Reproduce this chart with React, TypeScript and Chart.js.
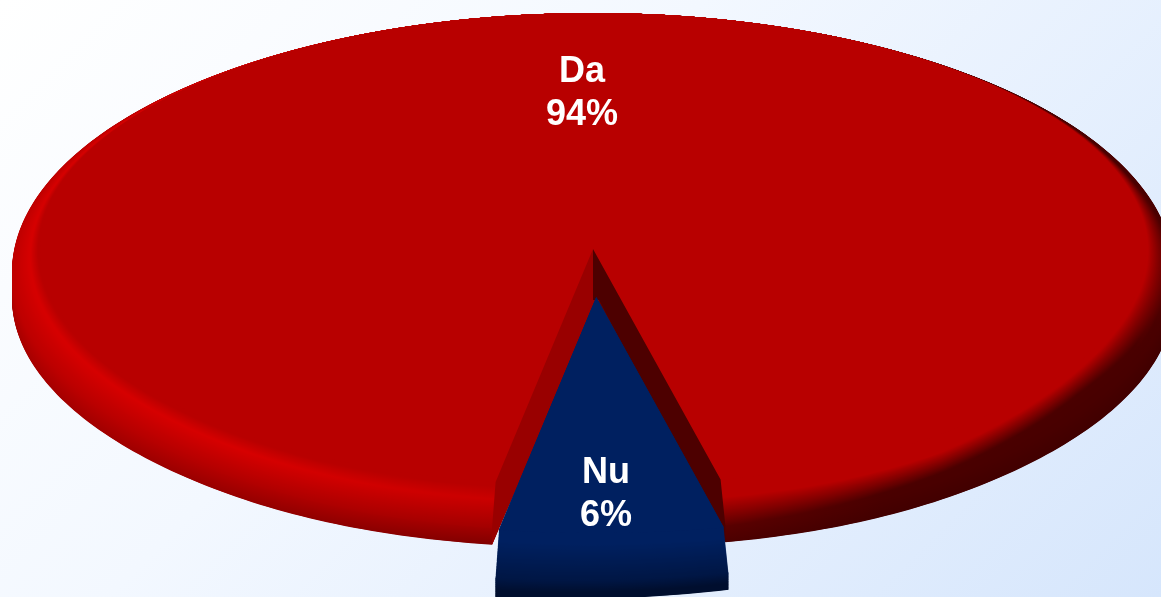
import React, { useEffect, useRef } from "react";
import { Chart, registerables } from "chart.js";

Chart.register(...registerables);

const categories = ["Da", "Nu"];
const seriesValues = [94, 6];
const sliceColors = ["#b80000", "#002060"];
const sliceOffsets = [0, 48];

// Projection of the pie's disc on to the page: three ellipses (flat top, rim, foot)
type Ring = { cy: number; rx: number; ry: number; near: number };
const CX = 593;
const FLAT: Ring = { cy: 249, rx: 553, ry: 236, near: 0.1 };
const RIM: Ring = { cy: 272, rx: 581, ry: 259, near: 0.083 };
const FOOT: Ring = { cy: 298, rx: 581, ry: 250, near: 0.083 };

const labelAnchors = [
  { dx: -11, base: [82, 125] },
  { dx: 13, base: [483, 526] },
];

const project = (ring: Ring, a: number, oy = 0, ox = 0) => {
  const s = Math.sin(a);
  const grow = s > 0 ? 1 + ring.near * Math.pow(s, 8) : 1;
  return { x: CX + ox + ring.rx * grow * Math.cos(a), y: ring.cy + oy + ring.ry * s };
};

const wall = (a: number, t: number, ox: number, oy: number, tilt = 0) => {
  const u = t < 0.5 ? t * 2 : (t - 0.5) * 2;
  const p0 = project(t < 0.5 ? FLAT : RIM, a, oy, ox);
  const p1 = project(t < 0.5 ? RIM : FOOT, a, oy, ox);
  const x = p0.x + (p1.x - p0.x) * u;
  const y = p0.y + (p1.y - p0.y) * u;
  return { x, y: y + tilt * t * (CX + ox + 115 - x) };
};

const table = (rows: number[][], s: number) => {
  if (s <= rows[0][0]) return rows[0][1];
  for (let i = 1; i < rows.length; i++) {
    if (s <= rows[i][0]) {
      const f = (s - rows[i - 1][0]) / (rows[i][0] - rows[i - 1][0]);
      return rows[i - 1][1] + (rows[i][1] - rows[i - 1][1]) * f;
    }
  }
  return rows[rows.length - 1][1];
};

const PEAK = [[-1, 214], [-0.6, 214], [-0.15, 202], [0.12, 184], [1, 184]];
const MID = [[-1, 190], [-0.6, 176], [-0.15, 158], [0.12, 96], [0.5, 74], [1, 74]];
const END = [[-1, 168], [-0.6, 150], [-0.15, 128], [0.12, 80], [0.5, 66], [1, 64]];
const FADE_START = [[-1, 0.04], [0.1, 0.06], [0.2, 0.18], [0.6, 0.18], [0.92, 0.02]];
const PEAK_AT = [[-1, 0.18], [0.1, 0.2], [0.2, 0.2], [0.6, 0.2], [0.92, 0.04]];
const MID_AT = [[-1, 0.5], [0.12, 0.55], [0.6, 0.42], [0.85, 0.3], [0.93, 0.34], [1, 0.46]];

const redShade = (s: number, t: number) => {
  const peak = table(PEAK, s);
  const mid = table(MID, s);
  const end = table(END, s);
  const t0 = table(FADE_START, s);
  const t1 = Math.max(table(PEAK_AT, s), t0 + 0.001);
  const t2 = table(MID_AT, s);
  let v: number;
  if (t < t0) v = 184;
  else if (t < t1) v = 184 + (peak - 184) * ((t - t0) / (t1 - t0));
  else if (t < t2) v = peak + (mid - peak) * ((t - t1) / (t2 - t1));
  else v = mid + (end - mid) * ((t - t2) / (1 - t2));
  return `rgb(${Math.round(v)},0,0)`;
};

const blueShade = (_s: number, t: number) => {
  const f = t < 0.12 ? 0 : Math.min(1, (t - 0.12) / 0.7);
  return `rgb(0,${Math.round(32 - 18 * f)},${Math.round(96 - 50 * f)})`;
};

// Side of a slice: stacked layers from foot to top, each shaded left to right.
const drawSide = (
  ctx: CanvasRenderingContext2D,
  a0: number,
  a1: number,
  ox: number,
  oy: number,
  shade: (s: number, t: number) => string,
  tilt = 0
) => {
  const stepsA = Math.max(8, Math.ceil((a1 - a0) / (Math.PI / 180)));
  const layers = 90;
  const span = FOOT.rx;
  for (let j = layers; j >= 0; j--) {
    const t = j / layers;
    const g = ctx.createLinearGradient(CX + ox - span, 0, CX + ox + span, 0);
    for (let k = 0; k <= 60; k++) {
      g.addColorStop(k / 60, shade(k / 30 - 1, t));
    }
    ctx.fillStyle = g;
    const cy = wall(-Math.PI / 2, t, ox, oy).y / 2 + wall(Math.PI / 2, t, ox, oy).y / 2;
    ctx.beginPath();
    ctx.moveTo(CX + ox, cy);
    for (let i = 0; i <= stepsA; i++) {
      const q = wall(a0 + ((a1 - a0) * i) / stepsA, t, ox, oy, tilt);
      ctx.lineTo(q.x, q.y);
    }
    ctx.closePath();
    ctx.fill();
  }
};

const drawTop = (ctx: CanvasRenderingContext2D, a0: number, a1: number, ox: number, oy: number, color: string) => {
  const steps = Math.ceil((a1 - a0) / (Math.PI / 360));
  ctx.fillStyle = color;
  ctx.beginPath();
  ctx.moveTo(CX + ox, FLAT.cy + oy);
  for (let i = 0; i <= steps; i++) {
    const q = project(FLAT, a0 + ((a1 - a0) * i) / steps, oy, ox);
    ctx.lineTo(q.x, q.y);
  }
  ctx.closePath();
  ctx.fill();
};

const drawCut = (ctx: CanvasRenderingContext2D, a: number, color: string) => {
  const f = project(FLAT, a);
  const r = project(RIM, a);
  const b = project(FOOT, a);
  ctx.fillStyle = color;
  ctx.beginPath();
  ctx.moveTo(CX, FLAT.cy);
  ctx.lineTo(f.x, f.y);
  ctx.lineTo(r.x, r.y);
  ctx.lineTo(b.x, b.y);
  ctx.lineTo(CX + 6, FOOT.cy + 2);
  ctx.lineTo(CX, FOOT.cy + 2);
  ctx.closePath();
  ctx.fill();
};

const pie3d = {
  id: "pie3d",
  beforeDatasetDraw(chart: any) {
    const ctx: CanvasRenderingContext2D = chart.ctx;
    const arcs = chart.getDatasetMeta(0).data;
    ctx.save();
    arcs.forEach((arc: any, i: number) => {
      const { startAngle, endAngle } = arc.getProps(["startAngle", "endAngle"], true);
      const offset = arc.options.offset || 0;
      const mid = (startAngle + endAngle) / 2;
      const ox = Math.cos(mid) * offset + (offset ? 2 : 0);
      const oy = Math.sin(mid) * offset;
      const color = arc.options.backgroundColor;
      if (i === 0) {
        drawSide(ctx, startAngle, endAngle, 0, 0, redShade);
        drawTop(ctx, startAngle, endAngle, 0, 0, color);
        drawCut(ctx, startAngle, "#990000");
        drawCut(ctx, endAngle, "#4d0000");
      } else {
        drawSide(ctx, startAngle, endAngle, ox, oy, blueShade, 0.025);
        drawTop(ctx, startAngle, endAngle, ox, oy, color);
      }
    });
    ctx.fillStyle = "#ffffff";
    ctx.font = 'bold 36px "Liberation Sans", Arial, sans-serif';
    ctx.textAlign = "center";
    ctx.textBaseline = "alphabetic";
    arcs.forEach((_arc: any, i: number) => {
      const anchor = labelAnchors[i];
      ctx.fillText(categories[i], CX + anchor.dx, anchor.base[0]);
      ctx.fillText(`${seriesValues[i]}%`, CX + anchor.dx, anchor.base[1]);
    });
    ctx.restore();
    return false;
  },
};

export default function App() {
  const ref = useRef<HTMLCanvasElement>(null);
  useEffect(() => {
    const chart = new Chart(ref.current as HTMLCanvasElement, {
      type: "pie",
      data: {
        labels: categories,
        datasets: [
          {
            data: seriesValues,
            backgroundColor: sliceColors,
            offset: sliceOffsets,
            borderWidth: 0,
          },
        ],
      },
      options: {
        animation: false,
        responsive: false,
        rotation: 189.3,
        plugins: { legend: { display: false }, tooltip: { enabled: false } },
      },
      plugins: [pie3d],
    } as any);
    return () => chart.destroy();
  }, []);
  return (
    <div
      style={{
        position: "fixed",
        left: 0,
        top: 0,
        width: 1161,
        height: 597,
        overflow: "hidden",
        background: "linear-gradient(135deg, #ffffff 0%, #f3f8ff 40%, #d6e6fc 100%)",
      }}
    >
      <canvas ref={ref} width={1161} height={597} style={{ display: "block" }} />
    </div>
  );
}
